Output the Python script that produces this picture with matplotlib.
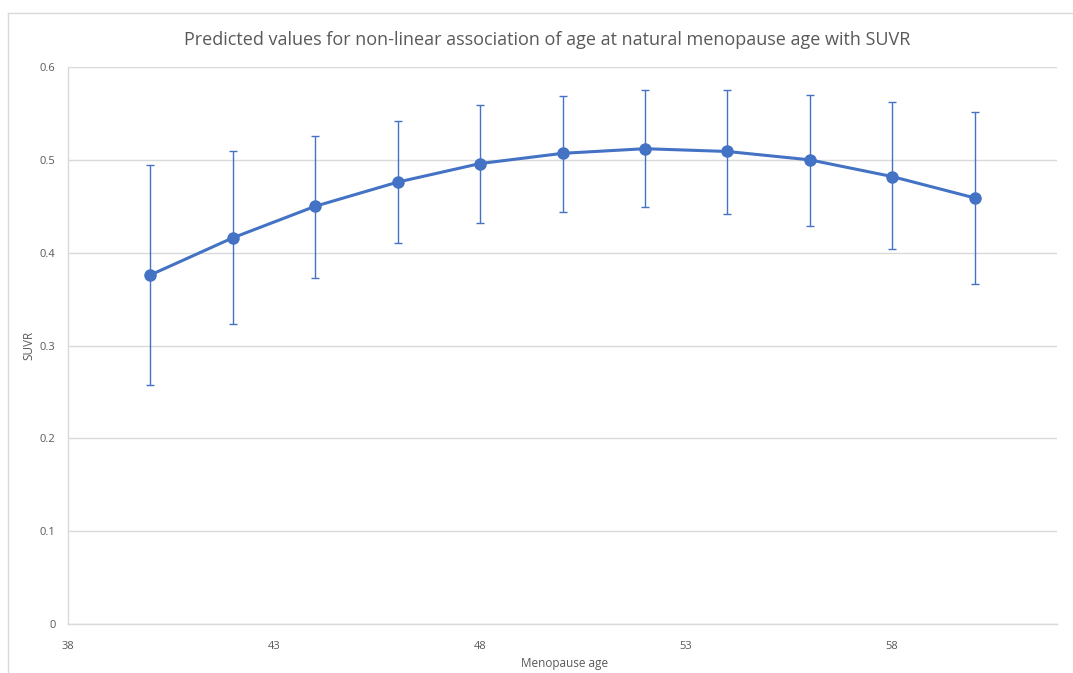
import matplotlib
matplotlib.use("Agg")
import matplotlib.pyplot as plt
from matplotlib.lines import Line2D

ages = [40, 42, 44, 46, 48, 50, 52, 54, 56, 58, 60]
suvr = [0.376, 0.416, 0.450, 0.476, 0.496, 0.507, 0.512, 0.509, 0.500, 0.482, 0.459]
upper = [0.494, 0.510, 0.526, 0.542, 0.559, 0.569, 0.575, 0.575, 0.570, 0.562, 0.551]
lower = [0.257, 0.323, 0.373, 0.410, 0.432, 0.444, 0.449, 0.442, 0.429, 0.404, 0.366]
xticks = [38, 43, 48, 53, 58]
yticks = [0, 0.1, 0.2, 0.3, 0.4, 0.5, 0.6]
title = "Predicted values for non-linear association of age at natural menopause age with SUVR"

plt.rcParams['font.family'] = ['Open Sans', 'DejaVu Sans']

W, H = 1073, 673
fig = plt.figure(figsize=(W / 100, H / 100), dpi=100)
ax = fig.add_axes([68 / W, 1 - 624 / H, (1057 - 68) / W, (624 - 67) / H])

color = '#4472C4'
grid = '#D9D9D9'
tc = '#595959'

yerr = [[s - l for s, l in zip(suvr, lower)], [u - s for s, u in zip(suvr, upper)]]
ax.errorbar(ages, suvr, yerr=yerr, fmt='none', ecolor=color, elinewidth=1.0,
            capsize=2.6, capthick=1.0, zorder=3)
ax.plot(ages, suvr, color=color, lw=2.2, marker='o', markersize=8, zorder=4)

ax.set_xlim(38, 62)
ax.set_ylim(0, 0.6)
ax.set_xticks(xticks)
ax.set_xticklabels([str(t) for t in xticks])
ax.set_yticks(yticks)
ax.set_yticklabels(['0'] + [f'{t:.1f}' for t in yticks[1:]])
ax.tick_params(length=0, labelsize=8, colors=tc, pad=9)
ax.tick_params(axis='x', pad=12)
ax.yaxis.grid(True, color=grid, lw=1)
ax.set_axisbelow(True)
for s in ['top', 'right']:
    ax.spines[s].set_visible(False)
for s in ['left', 'bottom']:
    ax.spines[s].set_color(grid)
    ax.spines[s].set_linewidth(1)

fig.text(565 / W, 1 - 663 / H, 'Menopause age', ha='center', va='center', fontsize=8.5, color=tc)
fig.text(29 / W, 1 - 345 / H, 'SUVR', ha='center', va='center', rotation=90, fontsize=8.5, color=tc)
fig.text(547 / W, 1 - 40 / H, title, ha='center', va='center', fontsize=13, color=tc)

# outer chart border (partially visible)
fig.add_artist(Line2D([8 / W, 1], [1 - 13 / H, 1 - 13 / H], color=grid, lw=1, transform=fig.transFigure))
fig.add_artist(Line2D([8 / W, 8 / W], [1 - 13 / H, 0], color=grid, lw=1, transform=fig.transFigure))

fig.savefig('out.png', dpi=100, facecolor='white')
